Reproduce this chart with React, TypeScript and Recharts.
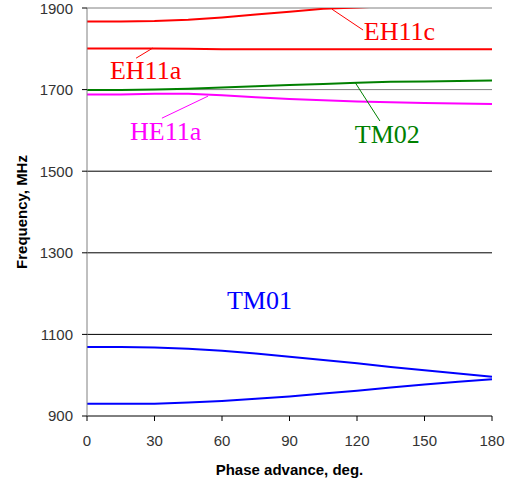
import React from "react";
import {
  LineChart,
  Line,
  XAxis,
  YAxis,
  ReferenceLine,
  ReferenceDot,
  Label,
} from "recharts";

const phases = [0, 15, 30, 45, 60, 75, 90, 105, 120, 135, 150, 165, 180];
const eh11c = [1867, 1867, 1868, 1871, 1877, 1884, 1891, 1898, 1901, 1905, 1909, 1912, 1915];
const eh11a = [1801, 1801, 1801, 1800, 1799, 1799, 1799, 1799, 1799, 1799, 1799, 1799, 1799];
const tm02 = [1699, 1699, 1700, 1702, 1705, 1708, 1711, 1714, 1717, 1719, 1720, 1721, 1722];
const he11a = [1688, 1688, 1690, 1690, 1686, 1681, 1677, 1674, 1671, 1669, 1667, 1666, 1665];
const tm01Upper = [1069, 1069, 1068, 1065, 1060, 1053, 1045, 1037, 1029, 1020, 1012, 1004, 996];
const tm01Lower = [930, 930, 930, 933, 937, 942, 948, 955, 962, 970, 977, 984, 990];

const xTicks = [0, 30, 60, 90, 120, 150, 180];
const yTicks = [900, 1100, 1300, 1500, 1700, 1900];
const darkGrid = [1100, 1300, 1500];
const grayGrid = [1700, 1900];

const labels = [
  { text: "EH11c", x: 123, y: 1821, color: "#FF0000" },
  { text: "EH11a", x: 10.2, y: 1726, color: "#FF0000" },
  { text: "HE11a", x: 19.1, y: 1577, color: "#FF00FF" },
  { text: "TM02", x: 119, y: 1569, color: "#008000" },
  { text: "TM01", x: 62.2, y: 1162, color: "#0000FF" },
];

const leaders = [
  { color: "#FF0000", seg: [{ x: 108.9, y: 1897 }, { x: 122.7, y: 1846 }] },
  { color: "#FF0000", seg: [{ x: 21.8, y: 1777 }, { x: 29.3, y: 1802 }] },
  { color: "#FF00FF", seg: [{ x: 33.3, y: 1630 }, { x: 53.8, y: 1684 }] },
  { color: "#008000", seg: [{ x: 119.1, y: 1718 }, { x: 130.2, y: 1623 }] },
];

const data = phases.map((p, i) => ({
  phase: p,
  eh11c: eh11c[i],
  eh11a: eh11a[i],
  tm02: tm02[i],
  he11a: he11a[i],
  tm01u: tm01Upper[i],
  tm01l: tm01Lower[i],
}));

const series = [
  { key: "eh11c", color: "#FF0000" },
  { key: "eh11a", color: "#FF0000" },
  { key: "tm02", color: "#008000" },
  { key: "he11a", color: "#FF00FF" },
  { key: "tm01u", color: "#0000FF" },
  { key: "tm01l", color: "#0000FF" },
];

const serif = "'Liberation Serif', 'Times New Roman', serif";
const sans = "'Liberation Sans', Arial, sans-serif";

export default function App() {
  return (
    <div style={{ position: "absolute", left: 0, top: 0, background: "#fff" }}>
      <LineChart
        width={515}
        height={485}
        data={data}
        margin={{ top: 8, right: 23, bottom: 39, left: 0 }}
      >
        <XAxis
          dataKey="phase"
          type="number"
          domain={[0, 180]}
          ticks={xTicks}
          stroke="#000"
          tickSize={5}
          tickMargin={14}
          height={30}
          tick={{ fill: "#333", fontSize: 15, fontFamily: sans }}
          tickLine={{ stroke: "#000" }}
        >
          <Label
            value="Phase advance, deg."
            position="insideBottom"
            offset={-29}
            style={{ fontWeight: "bold", fontSize: 15, fontFamily: sans, fill: "#000" }}
          />
        </XAxis>
        <YAxis
          type="number"
          domain={[900, 1900]}
          ticks={yTicks}
          allowDataOverflow
          width={87}
          stroke="#808080"
          tickSize={5}
          tickMargin={9}
          tick={{ fill: "#333", fontSize: 15, fontFamily: sans }}
          tickLine={{ stroke: "#000" }}
        >
          <Label
            value="Frequency, MHz"
            angle={-90}
            position="insideLeft"
            offset={22}
            style={{ fontWeight: "bold", fontSize: 15, fontFamily: sans, fill: "#000", textAnchor: "middle" }}
          />
        </YAxis>
        {darkGrid.map((v) => (
          <ReferenceLine key={"d" + v} y={v} stroke="#000" strokeWidth={1} />
        ))}
        {grayGrid.map((v) => (
          <ReferenceLine key={"g" + v} y={v} stroke="#808080" strokeWidth={1} />
        ))}
        {series.map((s) => (
          <Line
            key={s.key}
            dataKey={s.key}
            stroke={s.color}
            strokeWidth={2}
            dot={false}
            type="linear"
            isAnimationActive={false}
          />
        ))}
        {leaders.map((l, i) => (
          <ReferenceLine key={"l" + i} segment={l.seg} stroke={l.color} strokeWidth={1} />
        ))}
        {labels.map((l) => (
          <ReferenceDot
            key={l.text}
            x={l.x}
            y={l.y}
            r={0}
            shape={(p: any) => (
              <text
                x={p.cx}
                y={p.cy}
                fill={l.color}
                fontSize={26}
                fontFamily={serif}
                textAnchor="start"
              >
                {l.text}
              </text>
            )}
          />
        ))}
      </LineChart>
    </div>
  );
}
